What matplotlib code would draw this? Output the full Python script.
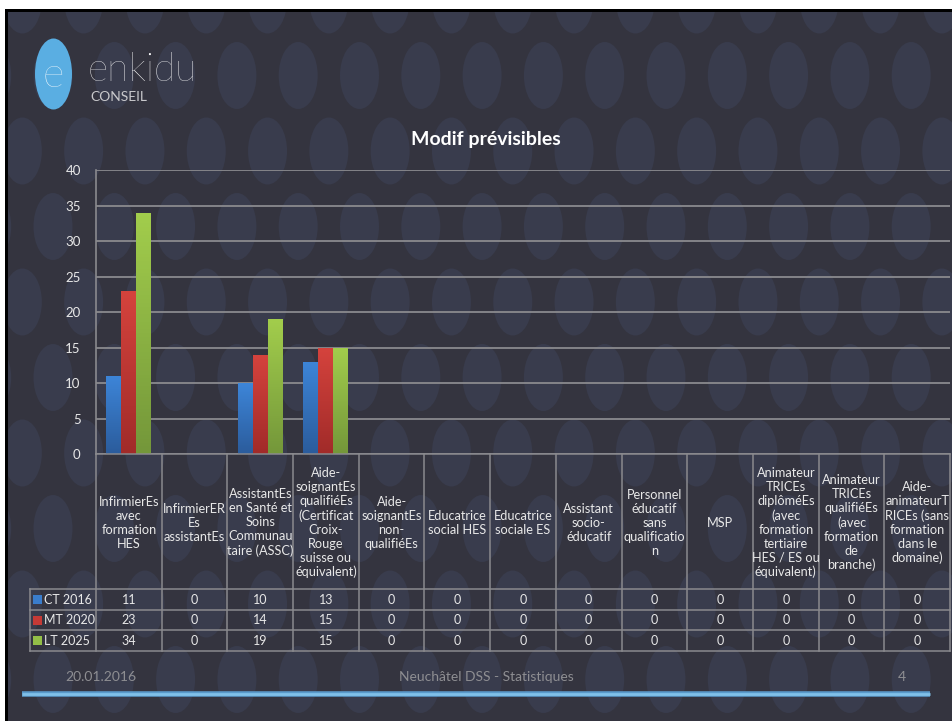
import matplotlib
matplotlib.use("Agg")
import matplotlib.pyplot as plt
from matplotlib.patches import Ellipse, Rectangle
import numpy as np

plt.rcParams['font.family'] = ['Lato', 'DejaVu Sans']

# ---------- data ----------
categories = [
    "InfirmierEs\navec\nformation\nHES",
    "InfirmierER\nEs\nassistantEs",
    "AssistantEs\nen Santé et\nSoins\nCommunau\ntaire (ASSC)",
    "Aide-\nsoignantEs\nqualifiéEs\n(Certificat\nCroix-\nRouge\nsuisse ou\néquivalent)",
    "Aide-\nsoignantEs\nnon-\nqualifiéEs",
    "Educatrice\nsocial HES",
    "Educatrice\nsociale ES",
    "Assistant\nsocio-\néducatif",
    "Personnel\néducatif\nsans\nqualificatio\nn",
    "MSP",
    "Animateur\nTRICEs\ndiplôméEs\n(avec\nformation\ntertiaire\nHES / ES ou\néquivalent)",
    "Animateur\nTRICEs\nqualifiéEs\n(avec\nformation\nde\nbranche)",
    "Aide-\nanimateurT\nRICEs (sans\nformation\ndans le\ndomaine)",
]
series_names = ["CT 2016", "MT 2020", "LT 2025"]
ct_2016 = [11, 0, 10, 13, 0, 0, 0, 0, 0, 0, 0, 0, 0]
mt_2020 = [23, 0, 14, 15, 0, 0, 0, 0, 0, 0, 0, 0, 0]
lt_2025 = [34, 0, 19, 15, 0, 0, 0, 0, 0, 0, 0, 0, 0]
series = [ct_2016, mt_2020, lt_2025]
y_ticks = [0, 5, 10, 15, 20, 25, 30, 35, 40]

title = "Modif prévisibles"
footer_date = "20.01.2016"
footer_mid = "Neuchâtel DSS - Statistiques"
footer_page = "4"

# top / bottom colours of each series gradient
grad_colors = [("#3d85d8", "#2b5c9c"), ("#d5433d", "#a12b29"), ("#a2cd4c", "#74973a")]
key_colors = ["#3a7dcc", "#c63a36", "#93be47"]

W, H = 953, 721
BG = "#34343f"
TXT = "#e8e8e8"
GRID = "#8a8a8e"

fig = plt.figure(figsize=(W / 100, H / 100), dpi=100, facecolor=BG)

# ---------- slide background ----------
bg = fig.add_axes([0, 0, 1, 1])
bg.set_xlim(0, W)
bg.set_ylim(H, 0)
bg.axis("off")

# faint logo pattern
dx, dy = 61.3, 75.5
for r, yc in enumerate(np.arange(0, H + 40, dy)):
    x0 = 53 - dx + (dx / 2 if r % 2 == 0 else 0)
    for xc in np.arange(x0, W + 40, dx):
        bg.add_patch(Ellipse((xc, yc), 39, 67, facecolor="#393c4d", lw=0, zorder=1))

# white margin and black frame at top / left
bg.add_patch(Rectangle((0, 0), W, 12, facecolor="black", lw=0, zorder=4))
bg.add_patch(Rectangle((0, 0), 8, H, facecolor="black", lw=0, zorder=4))
bg.add_patch(Rectangle((0, 0), W, 9, facecolor="white", lw=0, zorder=5))
bg.add_patch(Rectangle((0, 0), 5, H, facecolor="white", lw=0, zorder=5))

# logo
bg.add_patch(Ellipse((53.5, 74), 37, 71, facecolor="#5aaee2", lw=0, zorder=2))
bg.text(53.5, 76, "e", color="white", fontsize=30, fontweight="light",
        ha="center", va="center", zorder=3)
bg.text(88, 70, "enkidu", color="white", fontsize=28, fontweight="light",
        ha="left", va="center", zorder=3)
bg.text(90, 97, "CONSEIL", color="#c9c9cc", fontsize=10,
        ha="left", va="center", zorder=3)

# title
bg.text(486, 140, title, color="white", fontsize=14, fontweight="bold",
        ha="center", va="center", zorder=3)

# footer
bg.text(65, 677, footer_date, color="#8e8e92", fontsize=10, ha="left", va="center")
bg.text(486, 677, footer_mid, color="#8e8e92", fontsize=10, ha="center", va="center")
bg.text(906, 677, footer_page, color="#8e8e92", fontsize=10, ha="right", va="center")
bg.plot([22, 930], [694, 694], color="#5a9acb", lw=4, solid_capstyle="butt", zorder=3)
bg.plot([22, 930], [694, 694], color="#80c0e8", lw=2, solid_capstyle="butt", zorder=3)

# ---------- chart ----------
L, R, T, B = 96, 950, 170, 454
ax = fig.add_axes([L / W, 1 - B / H, (R - L) / W, (B - T) / H])
ax.patch.set_alpha(0)
x = np.arange(len(categories))
bw = 0.228
for i, (vals, (ctop, cbot)) in enumerate(zip(series, grad_colors)):
    bars = ax.bar(x + (i - 1) * bw, vals, width=bw, color="none", zorder=3)
    cmap = matplotlib.colors.LinearSegmentedColormap.from_list("g", [cbot, ctop])
    grad = np.linspace(0, 1, 64).reshape(-1, 1)
    for bar in bars:
        if bar.get_height() <= 0:
            continue
        x0b, w = bar.get_x(), bar.get_width()
        im = ax.imshow(grad, extent=[x0b, x0b + w, 0, bar.get_height()],
                       origin="lower", cmap=cmap, aspect="auto", zorder=3)
        im.set_clip_path(bar)

ax.set_xlim(-0.5, len(categories) - 0.5)
ax.set_ylim(0, 40)
ax.set_yticks(y_ticks)
ax.tick_params(axis="y", colors=TXT, labelsize=9.5, length=0, pad=11)
ax.set_xticks([])
ax.yaxis.grid(True, color=GRID, lw=1.3, zorder=1)
ax.set_axisbelow(True)
for s in ["top", "right", "bottom"]:
    ax.spines[s].set_visible(False)
ax.spines["left"].set_color(GRID)
ax.spines["left"].set_linewidth(1.2)

# ---------- data table ----------
TB = 651
tab = fig.add_axes([L / W, 1 - TB / H, (R - L) / W, (TB - B) / H])
tab.set_xlim(-0.5, len(categories) - 0.5)
tab.set_ylim(TB - B, 0)
tab.axis("off")
head_h = 135
row_edges = [head_h, head_h + 21, head_h + 41, TB - B]
n = len(categories)
line_kw = dict(color=GRID, lw=1.1, clip_on=False)
for k in range(n + 1):
    tab.plot([k - 0.5, k - 0.5], [0, TB - B], **line_kw)
tab.plot([-1.5, -1.5], [head_h, TB - B], **line_kw)
tab.plot([-0.5, n - 0.5], [0, 0], **line_kw)
for yv in row_edges:
    tab.plot([-1.5, n - 0.5], [yv, yv], **line_kw)

for k, lab in enumerate(categories):
    tab.text(k, head_h / 2 + 1, lab, ha="center", va="center", color=TXT,
             fontsize=9.2, linespacing=1.2)

for j, (name, vals) in enumerate(zip(series_names, series)):
    yc = (row_edges[j] + row_edges[j + 1]) / 2
    tab.add_patch(Rectangle((-1.455, yc - 4.5), 0.14, 9, facecolor=key_colors[j],
                            lw=0, clip_on=False))
    tab.text(-1.29, yc, name, ha="left", va="center", color=TXT, fontsize=9, clip_on=False)
    for k, v in enumerate(vals):
        tab.text(k, yc, str(v), ha="center", va="center", color=TXT, fontsize=9)

fig.savefig("out.png", dpi=100, facecolor=BG)
